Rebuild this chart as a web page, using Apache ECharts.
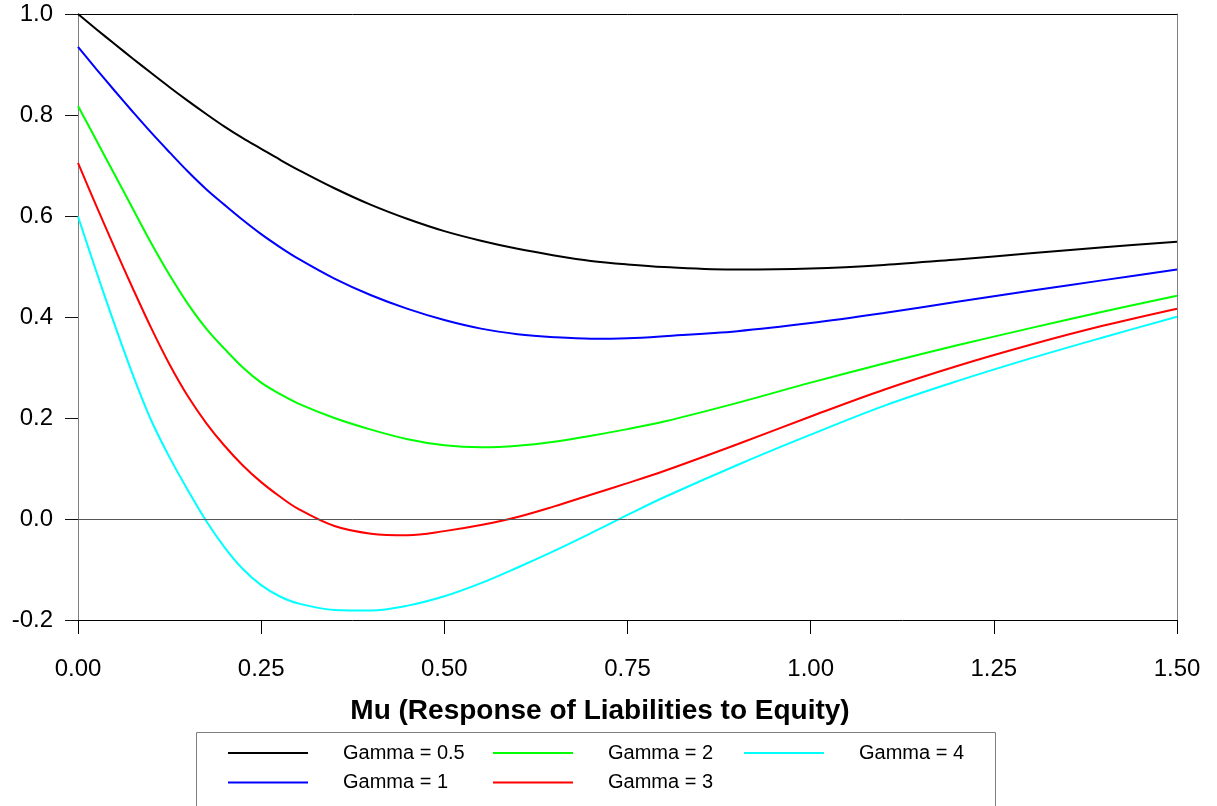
<!DOCTYPE html>
<html>
<head>
<meta charset="utf-8">
<script src="https://cdn.jsdelivr.net/npm/echarts@6/dist/echarts.min.js"></script>
<style>
  html, body { margin: 0; padding: 0; background: #fff; }
  #chart { width: 1217px; height: 806px; }
</style>
</head>
<body>
<div id="chart"></div>
<script>
// Mu values (x axis)
var mu = [0, 0.025, 0.05, 0.075, 0.1, 0.125, 0.15, 0.175, 0.2, 0.225, 0.25, 0.275, 0.3, 0.35, 0.4, 0.45, 0.5,
          0.55, 0.6, 0.65, 0.7, 0.75, 0.8, 0.9, 1.0, 1.1, 1.2, 1.3, 1.4, 1.5];

var gamma05 = [1.000, 0.970, 0.9405, 0.9115, 0.883, 0.855, 0.828, 0.802, 0.777, 0.754, 0.733, 0.712, 0.692, 0.655, 0.622, 0.594, 0.570,
               0.551, 0.535, 0.522, 0.511, 0.504, 0.499, 0.494, 0.496, 0.503, 0.514, 0.526, 0.538, 0.549];
var gamma1  = [0.935, 0.891, 0.848, 0.806, 0.765, 0.726, 0.688, 0.653, 0.622, 0.592, 0.564, 0.539, 0.516, 0.476, 0.443, 0.416, 0.394,
               0.377, 0.366, 0.360, 0.357, 0.358, 0.362, 0.372, 0.388, 0.408, 0.430, 0.452, 0.473, 0.494];
var gamma2  = [0.818, 0.750, 0.682, 0.614, 0.546, 0.483, 0.426, 0.377, 0.337, 0.300, 0.270, 0.248, 0.229, 0.200, 0.177, 0.158, 0.146,
               0.142, 0.145, 0.153, 0.165, 0.178, 0.193, 0.230, 0.270, 0.308, 0.344, 0.378, 0.411, 0.442];
var gamma3  = [0.705, 0.620, 0.537, 0.456, 0.378, 0.306, 0.243, 0.190, 0.145, 0.106, 0.073, 0.045, 0.0205, -0.014, -0.029, -0.032, -0.024,
               -0.012, 0.004, 0.025, 0.048, 0.071, 0.095, 0.148, 0.203, 0.256, 0.303, 0.345, 0.383, 0.4165];
var gamma4  = [0.599, 0.490, 0.385, 0.285, 0.195, 0.122, 0.057, -0.004, -0.056, -0.099, -0.131, -0.153, -0.167, -0.180, -0.181, -0.1715, -0.153,
               -0.127, -0.096, -0.063, -0.028, 0.008, 0.043, 0.107, 0.167, 0.224, 0.273, 0.318, 0.360, 0.4006];

var seriesNames = ['Gamma = 0.5', 'Gamma = 1', 'Gamma = 2', 'Gamma = 3', 'Gamma = 4'];
var seriesColors = ['#000000', '#0000ff', '#00ff00', '#ff0000', '#00ffff'];
var seriesValues = [gamma05, gamma1, gamma2, gamma3, gamma4];

var xTickLabels = ['0.00', '0.25', '0.50', '0.75', '1.00', '1.25', '1.50'];
var xAxisTitle = 'Mu (Response of Liabilities to Equity)';

function pairs(vals) {
  return mu.map(function (m, i) { return [m, vals[i]]; });
}

var FONT = '"Liberation Sans", Arial, Helvetica, sans-serif';

var series = seriesValues.map(function (vals, k) {
  var s = {
    name: seriesNames[k],
    type: 'line',
    data: pairs(vals),
    smooth: 0.35,
    symbol: 'none',
    lineStyle: { color: seriesColors[k], width: 2 },
    itemStyle: { color: seriesColors[k] },
    z: 3,
    animation: false
  };
  if (k === 0) {
    s.markLine = {
      silent: true,
      symbol: ['none', 'none'],
      label: { show: false },
      lineStyle: { color: '#555555', width: 1, type: 'solid' },
      data: [{ yAxis: 0 }],
      animation: false
    };
  }
  return s;
});

var legendCommon = {
  orient: 'vertical',
  top: 743,
  padding: 0,
  icon: 'rect',
  itemWidth: 80,
  itemHeight: 2,
  itemGap: 9.5,
  selectedMode: false,
  textStyle: { fontFamily: FONT, fontSize: 20, lineHeight: 20, color: '#000', padding: [0, 0, 0, 30] }
};

var chart = echarts.init(document.getElementById('chart'), null, { renderer: 'canvas' });
chart.setOption({
  backgroundColor: '#ffffff',
  animation: false,
  grid: { left: 78, right: 40, top: 14, bottom: 186, containLabel: false },
  title: {
    text: xAxisTitle,
    left: 595,
    top: 692,
    textAlign: 'center',
    textStyle: { fontFamily: FONT, fontSize: 28, fontWeight: 'bold', color: '#000' }
  },
  legend: [
    Object.assign({ left: 228, data: [seriesNames[0], seriesNames[1]] }, legendCommon),
    Object.assign({ left: 493, data: [seriesNames[2], seriesNames[3]] }, legendCommon),
    Object.assign({ left: 744, data: [seriesNames[4]] }, legendCommon)
  ],
  xAxis: [
    {
      type: 'value', min: 0, max: 1.5, interval: 0.25, position: 'bottom',
      axisLine: { show: true, onZero: false, lineStyle: { color: '#000', width: 1 } },
      axisTick: { show: true, inside: false, length: 14, lineStyle: { color: '#000', width: 1 } },
      axisLabel: {
        show: true, margin: 37, fontFamily: FONT, fontSize: 24, color: '#000',
        formatter: function (v) { return xTickLabels[Math.round(v / 0.25)]; }
      },
      splitLine: { show: false }
    },
    {
      type: 'value', min: 0, max: 1.5, position: 'top',
      axisLine: { show: true, onZero: false, lineStyle: { color: '#000', width: 1 } },
      axisTick: { show: false }, axisLabel: { show: false }, splitLine: { show: false }
    }
  ],
  yAxis: [
    {
      type: 'value', min: -0.2, max: 1.0, interval: 0.2, position: 'left',
      axisLine: { show: true, onZero: false, lineStyle: { color: '#808080', width: 1 } },
      axisTick: { show: true, inside: false, length: 13, lineStyle: { color: '#111', width: 1 } },
      axisLabel: {
        show: true, margin: 25, fontFamily: FONT, fontSize: 24, color: '#000',
        formatter: function (v) { return v.toFixed(1); }
      },
      splitLine: { show: false }
    },
    {
      type: 'value', min: -0.2, max: 1.0, position: 'right',
      axisLine: { show: true, onZero: false, lineStyle: { color: '#808080', width: 1 } },
      axisTick: { show: false }, axisLabel: { show: false }, splitLine: { show: false }
    }
  ],
  graphic: [
    {
      type: 'rect', left: 194, top: 730,
      shape: { width: 799, height: 90 },
      style: { fill: 'none', stroke: '#808080', lineWidth: 1 },
      silent: true
    }
  ],
  series: series
});
</script>
</body>
</html>
